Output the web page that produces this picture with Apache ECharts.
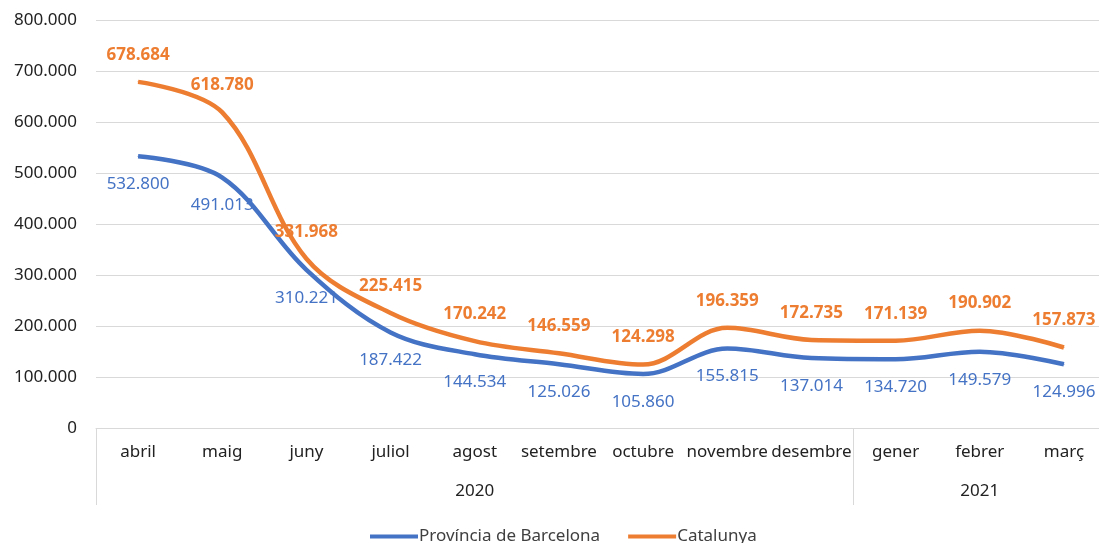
<!DOCTYPE html>
<html>
<head>
<meta charset="utf-8">
<script src="https://cdn.jsdelivr.net/npm/echarts@6/dist/echarts.min.js"></script>
<style>
  html, body { margin: 0; padding: 0; background: #fff; }
  #chart { width: 1099px; height: 543px; }
</style>
</head>
<body>
<div id="chart"></div>
<script>
// data
const months = ["abril", "maig", "juny", "juliol", "agost", "setembre", "octubre",
  "novembre", "desembre", "gener", "febrer", "març"];
const years = { 4: "2020", 10: "2021" }; // label sits under the middle month of each group
const barcelona = [532800, 491013, 310221, 187422, 144534, 125026, 105860,
  155815, 137014, 134720, 149579, 124996];
const catalunya = [678684, 618780, 331968, 225415, 170242, 146559, 124298,
  196359, 172735, 171139, 190902, 157873];

const fmt = (v) => v.toLocaleString("de-DE");
const FONT = "Noto Sans";
const grey = "#d9d9d9";

const chart = echarts.init(document.getElementById("chart"));

chart.setOption({
  animation: false,
  textStyle: { fontFamily: FONT },
  // plot runs a little past the right edge of the picture
  grid: { left: 96, width: 1010, top: 20, height: 408, outerBoundsMode: "none" },
  legend: {
    top: 523,
    left: 365,
    icon: "rect",
    itemWidth: 48,
    itemHeight: 4,
    itemGap: 28,
    textStyle: { fontSize: 17, color: "#404040", padding: [0, 0, 0, -4] },
    data: ["Província de Barcelona", "Catalunya"],
  },
  xAxis: [
    {
      type: "category",
      data: months,
      boundaryGap: true,
      axisLine: { lineStyle: { color: grey } },
      axisTick: {
        show: true,
        interval: (idx) => idx === 0 || idx === 9,
        length: 77,
        lineStyle: { color: grey },
      },
      axisLabel: { interval: 0, fontSize: 17, color: "#222", margin: 16 },
    },
    {
      type: "category",
      data: months,
      position: "bottom",
      axisLine: { show: false },
      axisTick: { show: false },
      axisLabel: {
        interval: 0,
        fontSize: 17,
        color: "#222",
        margin: 55,
        formatter: (v, idx) => years[idx] || "",
      },
    },
  ],
  yAxis: {
    type: "value",
    min: 0,
    max: 800000,
    interval: 100000,
    axisLine: { show: false },
    axisTick: { show: false },
    splitLine: { lineStyle: { color: grey } },
    axisLabel: { fontSize: 17, color: "#222", margin: 19, formatter: fmt },
  },
  series: [
    {
      name: "Província de Barcelona",
      type: "line",
      smooth: 0.35,
      data: barcelona,
      symbol: "circle",
      symbolSize: 1,
      lineStyle: { width: 4.5, color: "#4472C4" },
      itemStyle: { color: "#4472C4" },
      label: {
        show: true,
        position: "bottom",
        distance: 19,
        fontSize: 17,
        color: "#4472C4",
        formatter: (p) => fmt(p.value),
      },
    },
    {
      name: "Catalunya",
      type: "line",
      smooth: 0.35,
      data: catalunya,
      symbol: "circle",
      symbolSize: 1,
      lineStyle: { width: 4.5, color: "#ED7D31" },
      itemStyle: { color: "#ED7D31" },
      label: {
        show: true,
        position: "top",
        distance: 18,
        fontSize: 17,
        fontWeight: "bold",
        color: "#ED7D31",
        formatter: (p) => fmt(p.value),
      },
    },
  ],
});
</script>
</body>
</html>
